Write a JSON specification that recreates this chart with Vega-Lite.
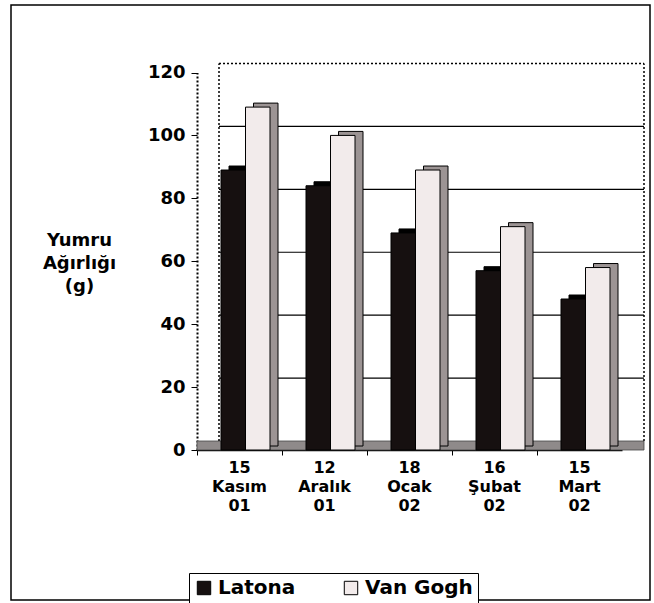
{
  "$schema": "https://vega.github.io/schema/vega-lite/v6.json",
  "autosize": {"type": "none"},
  "padding": {"left": 11, "top": 5, "right": 4, "bottom": 3},
  "width": 639,
  "height": 595,
  "background": "white",
  "config": {
    "view": {"stroke": "black", "strokeWidth": 1.5},
    "font": "DejaVu Sans"
  },
  "datasets": {
    "main": [
      {"date": "15 Kasım 01", "series": "Latona", "value": 89},
      {"date": "15 Kasım 01", "series": "Van Gogh", "value": 109},
      {"date": "12 Aralık 01", "series": "Latona", "value": 84},
      {"date": "12 Aralık 01", "series": "Van Gogh", "value": 100},
      {"date": "18 Ocak 02", "series": "Latona", "value": 69},
      {"date": "18 Ocak 02", "series": "Van Gogh", "value": 89},
      {"date": "16 Şubat 02", "series": "Latona", "value": 57},
      {"date": "16 Şubat 02", "series": "Van Gogh", "value": 71},
      {"date": "15 Mart 02", "series": "Latona", "value": 48},
      {"date": "15 Mart 02", "series": "Van Gogh", "value": 58}
    ]
  },
  "resolve": {"scale": {"x": "independent", "xOffset": "independent"}},
  "layer": [
    {
      "data": {"values": [{"v": 0}]},
      "mark": {"type": "rect", "fill": "#8f8a8a", "stroke": "#444", "strokeWidth": 0.8, "y2Offset": -9},
      "encoding": {
        "x": {"datum": 0, "type": "quantitative", "scale": {"domain": [0, 1], "range": [186, 633]}, "axis": null},
        "x2": {"datum": 1},
        "y": {"field": "v", "type": "quantitative"},
        "y2": {"datum": 0}
      }
    },
    {
      "data": {"values": [{"v": 20}, {"v": 40}, {"v": 60}, {"v": 80}, {"v": 100}]},
      "mark": {"type": "rule", "color": "black", "strokeWidth": 1.2, "yOffset": -9},
      "encoding": {
        "x": {"datum": 0, "type": "quantitative", "scale": {"domain": [0, 1], "range": [208, 633]}, "axis": null},
        "x2": {"datum": 1},
        "y": {"field": "v", "type": "quantitative"}
      }
    },
    {
      "data": {"values": [{"v": 120}]},
      "mark": {"type": "rule", "color": "black", "strokeWidth": 1.5, "strokeDash": [2, 2], "yOffset": -9},
      "encoding": {
        "x": {"datum": 0, "type": "quantitative", "scale": {"domain": [0, 1], "range": [208, 633]}, "axis": null},
        "x2": {"datum": 1},
        "y": {"field": "v", "type": "quantitative"}
      }
    },
    {
      "data": {"values": [{"e": 0}, {"e": 1}]},
      "mark": {"type": "rule", "color": "black", "strokeWidth": 1.5, "strokeDash": [2, 2], "yOffset": -9, "y2Offset": -9},
      "encoding": {
        "x": {"field": "e", "type": "quantitative", "scale": {"domain": [0, 1], "range": [208, 633]}, "axis": null},
        "y": {"datum": 0, "type": "quantitative"},
        "y2": {"datum": 120}
      }
    },
    {
      "data": {"name": "main"},
      "mark": {"type": "bar", "stroke": "black", "strokeWidth": 1, "yOffset": -4, "y2Offset": -4},
      "encoding": {
        "x": {"field": "date", "type": "nominal", "sort": null, "scale": {"range": [186, 611], "paddingInner": 0, "paddingOuter": 0}, "axis": null},
        "xOffset": {"field": "series", "type": "nominal", "scale": {"range": [32, 81], "paddingInner": 0, "paddingOuter": 0}},
        "y": {"field": "value", "type": "quantitative"},
        "fill": {"condition": {"test": "datum.series === 'Latona'", "value": "#000000"}, "value": "#9c9494"}
      }
    },
    {
      "data": {"name": "main"},
      "mark": {"type": "bar", "stroke": "black", "strokeWidth": 1},
      "encoding": {
        "x": {
          "field": "date", "type": "nominal", "sort": null,
          "scale": {"range": [186, 611], "paddingInner": 0, "paddingOuter": 0},
          "axis": {
            "orient": "bottom", "offset": -150, "title": null,
            "bandPosition": 0, "labelAngle": 0,
            "labelExpr": "split(datum.label, ' ')",
            "labelFont": "DejaVu Sans", "labelFontWeight": "bold", "labelFontSize": 16, "labelLineHeight": 19,
            "labelColor": "black", "labelPadding": 4,
            "tickColor": "black", "tickSize": 5, "domainColor": "black", "domainWidth": 1.5
          }
        },
        "xOffset": {"field": "series", "type": "nominal", "scale": {"range": [24, 73], "paddingInner": 0, "paddingOuter": 0}},
        "y": {
          "field": "value", "type": "quantitative",
          "scale": {"domain": [0, 120], "range": [445, 67.5], "nice": false, "zero": true},
          "axis": {
            "offset": -186, "values": [0, 20, 40, 60, 80, 100, 120], "grid": false,
            "labelFont": "DejaVu Sans", "labelFontWeight": "bold", "labelFontSize": 18, "labelColor": "black", "labelPadding": 6,
            "tickColor": "black", "tickSize": 6, "domainColor": "black", "domainDash": [2, 2], "domainWidth": 2,
            "title": ["Yumru", "Ağırlığı", "(g)"],
            "titleAngle": 0, "titleAlign": "center", "titleBaseline": "top",
            "titleX": -118, "titleY": 226, "titleLineHeight": 23,
            "titleFont": "DejaVu Sans", "titleFontWeight": "bold", "titleFontSize": 18, "titleColor": "black"
          }
        },
        "color": {
          "field": "series", "type": "nominal",
          "scale": {"domain": ["Latona", "Van Gogh"], "range": ["#161010", "#f2ebeb"]},
          "legend": {
            "orient": "none", "legendX": 178, "legendY": 568, "direction": "horizontal", "title": null,
            "labelFont": "DejaVu Sans", "labelFontWeight": "bold", "labelFontSize": 20, "labelColor": "black",
            "symbolType": "square", "symbolSize": 180, "symbolStrokeColor": "black", "symbolStrokeWidth": 1,
            "columnPadding": 45, "padding": 5, "labelOffset": 4,
            "strokeColor": "black", "fillColor": "white"
          }
        }
      }
    }
  ]
}
